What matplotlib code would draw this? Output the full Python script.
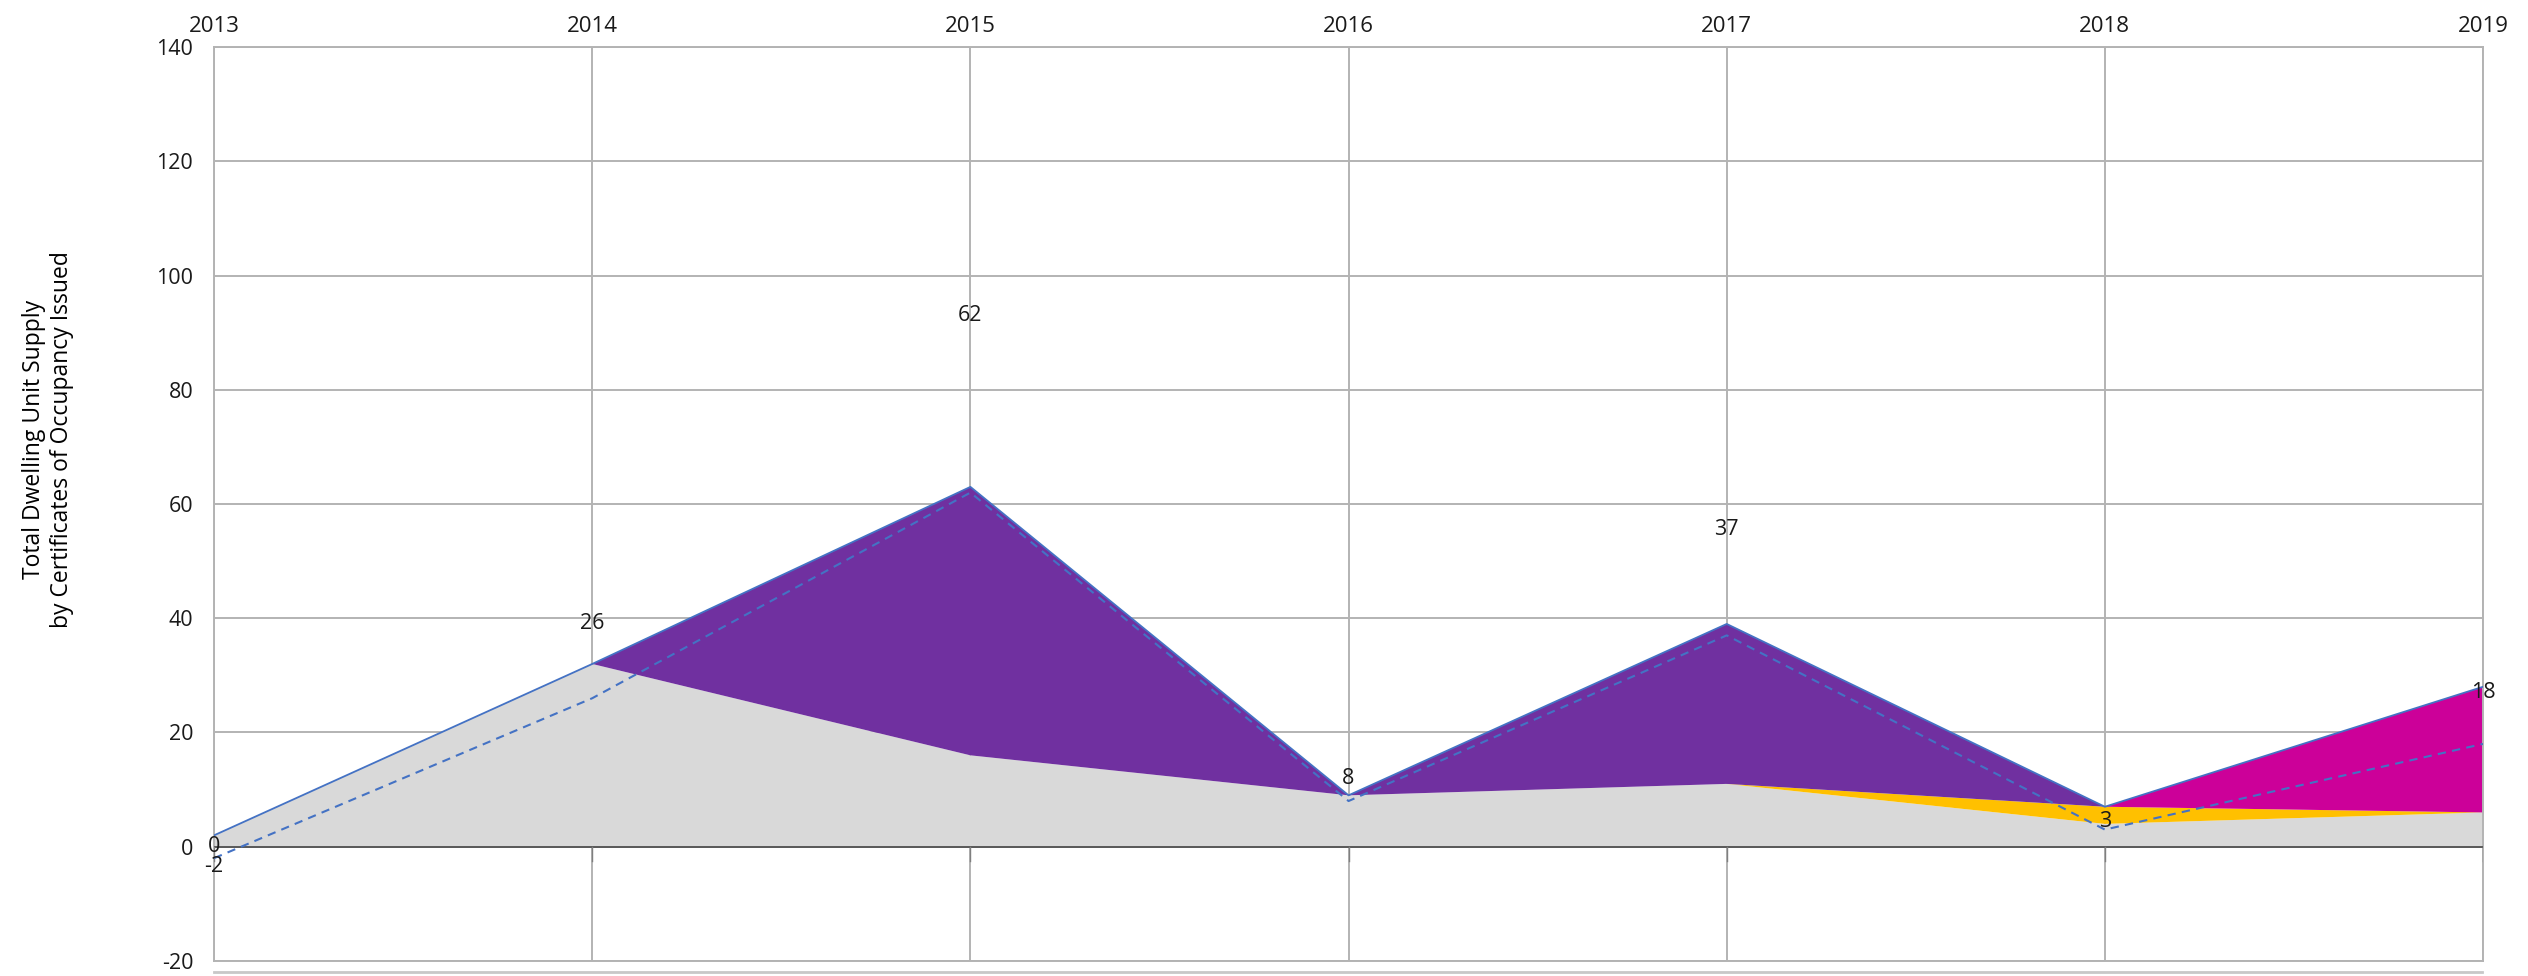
import matplotlib
matplotlib.use("Agg")
import matplotlib.pyplot as plt
from matplotlib.lines import Line2D
from matplotlib import font_manager as fm

years = [2013, 2014, 2015, 2016, 2017, 2018, 2019]
gray_series = [2, 32, 16, 9, 11, 4, 6]
yellow_series = [0, 0, 0, 0, 0, 3, 0]
purple_series = [0, 0, 47, 0, 28, 0, 0]
magenta_series = [0, 0, 0, 0, 0, 0, 22]
net_series = [-2, 26, 62, 8, 37, 3, 18]
extra_label_year = 2013
extra_label_value = 0

y_ticks = [-20, 0, 20, 40, 60, 80, 100, 120, 140]
y_label = "Total Dwelling Unit Supply\nby Certificates of Occupancy Issued"

names = {f.name for f in fm.fontManager.ttflist}


def pick(prefs):
    for p in prefs:
        if p in names:
            return p
    return "DejaVu Sans"


font = pick(["Selawik", "Open Sans", "Noto Sans", "DejaVu Sans"])

fig = plt.figure(figsize=(25.28, 9.76), dpi=100)
ax = fig.add_axes([0.0847, 0.0154, 0.8975, 0.9364])

colors = ["#D9D9D9", "#FFC000", "#7030A0", "#CC0099"]
ax.stackplot(years, gray_series, yellow_series, purple_series, magenta_series,
             colors=colors, linewidth=0, zorder=2)
total = [g + y + p + m for g, y, p, m in zip(gray_series, yellow_series, purple_series, magenta_series)]
ax.plot(years, total, color="#4472C4", lw=1.3, zorder=3)
ax.plot(years, net_series, color="#4472C4", lw=1.5, ls=(0, (4, 3)), zorder=4)

for x, v in zip(years, net_series):
    ax.text(x, v * 1.5 - (0.4 if v < 0 else 0), f"{v}", ha="center", va="center", fontsize=15.5,
            family=font, color="#1a1a1a", zorder=5)
ax.text(extra_label_year, extra_label_value, f"{extra_label_value}", ha="center", va="center",
        fontsize=15.5, family=font, color="#1a1a1a", zorder=5)

ax.set_xlim(years[0], years[-1])
ax.set_ylim(-20, 140)
ax.set_yticks(y_ticks)
ax.set_yticklabels([str(t) for t in y_ticks], family=font, fontsize=15.5, color="#1a1a1a")
ax.set_xticks(years)
ax.set_xticklabels([str(y) for y in years], fontsize=16, color="#1a1a1a", family=font)
ax.xaxis.tick_top()
ax.tick_params(axis="x", length=0, pad=7)
ax.tick_params(axis="y", length=0, pad=15)

ax.grid(True, color="#B3B3B3", lw=1.4, zorder=1)
ax.set_axisbelow(True)
for s in ax.spines.values():
    s.set_color("#B3B3B3")
    s.set_linewidth(1.4)
ax.axhline(0, color="#595959", lw=1.4, zorder=3)
for x in years:
    ax.plot([x, x], [0, -2.5], color="#7f7f7f", lw=1.0, zorder=3)

fig.text(0.019, 0.55, y_label, rotation=90, ha="center", va="center", fontsize=16.5,
         family=font, color="#000000", multialignment="center", linespacing=1.2)

fig.add_artist(Line2D([0.0847, 0.982], [0.004, 0.004], color="#C8C8C8", lw=2.0,
                      transform=fig.transFigure))

fig.savefig("out.png", dpi=100)
